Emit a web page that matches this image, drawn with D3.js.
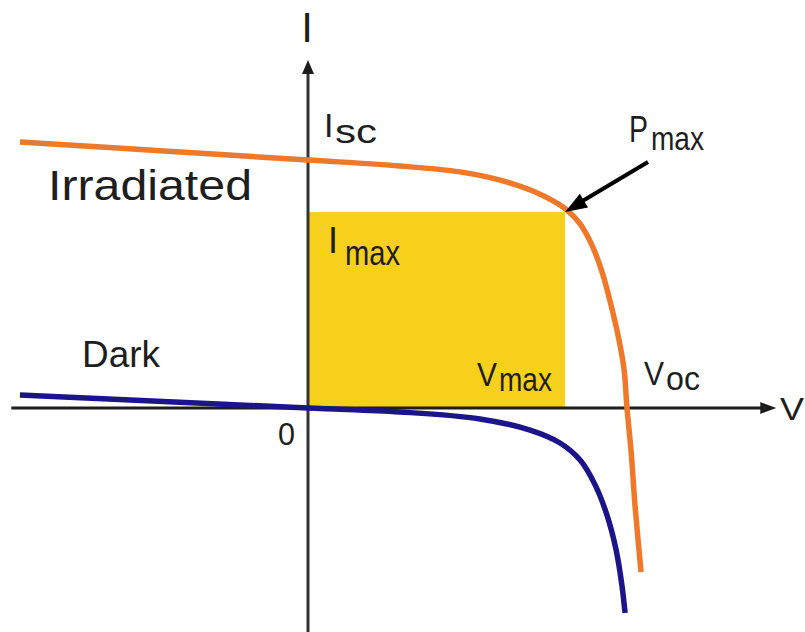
<!DOCTYPE html>
<html>
<head>
<meta charset="utf-8">
<script src="https://cdn.jsdelivr.net/npm/d3@7"></script>
<style>
  body { margin: 0; background: #fff; }
  svg { display: block; }
  text { font-family: "Liberation Sans", Arial, sans-serif; fill: #1e1e1e; }
</style>
</head>
<body>
<svg id="chart"></svg>
<script>
// I-V curves of a solar cell, normalised units (Voc = 1, Isc = 1)
const irradiatedV = [-0.903, -0.451, 0, 0.288, 0.476, 0.602, 0.705, 0.774, 0.812, 0.853, 0.890, 0.922, 0.950, 0.975, 0.991, 1.0, 1.013, 1.025, 1.044]
const irradiatedI = [1.073, 1.036, 1.0, 0.976, 0.952, 0.919, 0.875, 0.831, 0.798, 0.742, 0.657, 0.548, 0.415, 0.274, 0.153, 0, -0.177, -0.391, -0.661]

const darkV = [-0.903, 0, 0.288, 0.539, 0.696, 0.790, 0.853, 0.900, 0.937, 0.966, 0.984, 0.994]
const darkI = [0.052, 0, -0.016, -0.044, -0.089, -0.141, -0.210, -0.310, -0.431, -0.573, -0.714, -0.827]

// max power point
const vMax = 0.806
const iMax = 0.790

// axis extents
const vAxis = [-0.93, 1.468]
const iAxis = [-0.903, 1.403]

const w = 805
const h = 632

const svg = d3.select("#chart")
    .attr("width", w)
    .attr("height", h)

const x = d3.scaleLinear().domain([0, 1]).range([308, 627])
const y = d3.scaleLinear().domain([0, 1]).range([408, 160])

// yellow power rectangle
svg.append("rect")
    .attr("x", x(0))
    .attr("y", y(iMax))
    .attr("width", x(vMax) - x(0))
    .attr("height", y(0) - y(iMax))
    .attr("fill", "#f6d01a")

// axes
const axisColor = "#1c1c1c"
svg.append("line")
    .attr("x1", x(vAxis[0])).attr("x2", x(vAxis[1]) - 10)
    .attr("y1", y(0)).attr("y2", y(0))
    .attr("stroke", axisColor).attr("stroke-width", 3)
svg.append("path")
    .attr("d", `M${x(vAxis[1])},${y(0)} l-16,-6 l0,12 z`)
    .attr("fill", axisColor)

svg.append("line")
    .attr("x1", x(0)).attr("x2", x(0))
    .attr("y1", y(iAxis[0])).attr("y2", y(iAxis[1]) + 10)
    .attr("stroke", "#333").attr("stroke-width", 3)
svg.append("path")
    .attr("d", `M${x(0)},${y(iAxis[1])} l-6,14 l12,0 z`)
    .attr("fill", axisColor)

// curves
const line = d3.line()
    .x(d => x(d[0]))
    .y(d => y(d[1]))
    .curve(d3.curveCatmullRom.alpha(0.5))

svg.append("path")
    .datum(darkV.map((v, i) => [v, darkI[i]]))
    .attr("d", line)
    .attr("fill", "none")
    .attr("stroke", "#1b1589")
    .attr("stroke-width", 5.5)

svg.append("path")
    .datum(irradiatedV.map((v, i) => [v, irradiatedI[i]]))
    .attr("d", line)
    .attr("fill", "none")
    .attr("stroke", "#f07829")
    .attr("stroke-width", 5.5)

// Pmax arrow
const px = x(vMax), py = y(iMax)
svg.append("line")
    .attr("x1", 648).attr("y1", 162)
    .attr("x2", px + 14).attr("y2", py - 9)
    .attr("stroke", "#000").attr("stroke-width", 4)
const ang = Math.atan2(162 - py, 648 - px)
const hl = 22, hw = 8
const bx = px + hl * Math.cos(ang), by = py + hl * Math.sin(ang)
svg.append("path")
    .attr("d", `M${px},${py} L${bx - hw * Math.sin(ang)},${by + hw * Math.cos(ang)} L${bx + hw * Math.sin(ang)},${by - hw * Math.cos(ang)} Z`)
    .attr("fill", "#000")

// labels
function label(tx, ty, str, size, len) {
    const t = svg.append("text")
        .attr("x", tx).attr("y", ty)
        .attr("font-size", size)
        .text(str)
    if (len) t.attr("textLength", len).attr("lengthAdjust", "spacingAndGlyphs")
    return t
}

label(307, 42, "I", 42).attr("text-anchor", "middle")
label(48, 200, "Irradiated", 42, 204)
label(82, 367, "Dark", 37, 78)
label(278, 445, "0", 32, 17)
label(780, 420, "V", 31, 24)

// main letter + subscript
function subLabel(tx, ty, main, mainSize, mainLen, sub, subX, subY, subSize, subLen) {
    label(tx, ty, main, mainSize, mainLen)
    label(subX, subY, sub, subSize, subLen)
}

subLabel(324, 137, "I", 34, null, "sc", 335, 143, 33, 42)
subLabel(629, 142, "P", 37, 19, "max", 651, 150, 33, 53)
subLabel(328, 253, "I", 36, null, "max", 345, 265, 35, 55)
subLabel(477, 386, "V", 34, 20, "max", 499, 391, 34, 53)
subLabel(644, 385, "V", 33, 20, "oc", 666, 390, 33, 34)
</script>
</body>
</html>
